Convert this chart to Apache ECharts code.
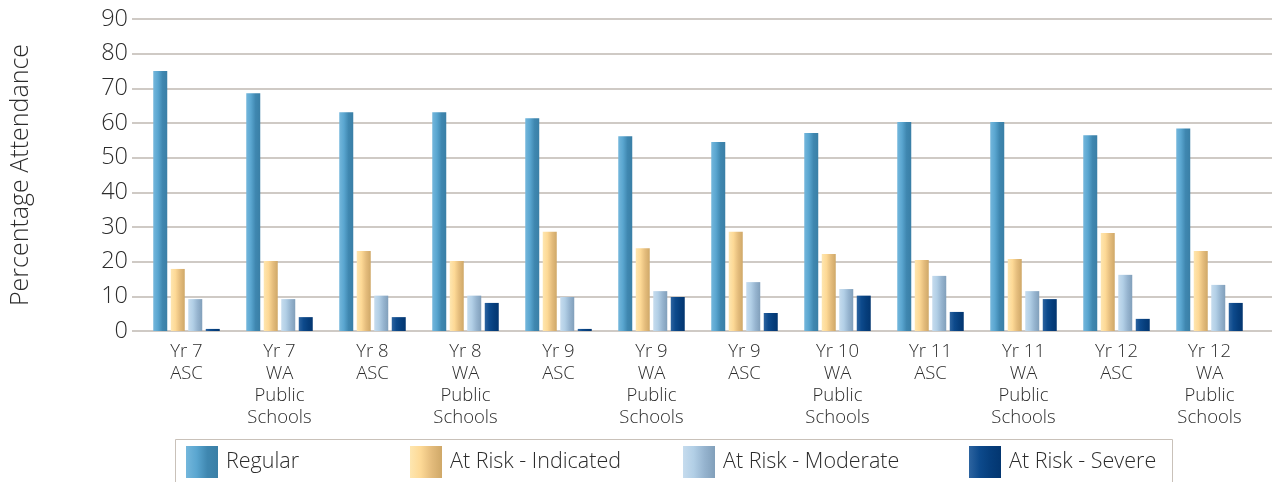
<!DOCTYPE html>
<html>
<head>
<meta charset="utf-8">
<style>
  html, body { margin: 0; padding: 0; background: #ffffff; }
  #chart { width: 1272px; height: 482px; }
</style>
<script src="https://cdn.jsdelivr.net/npm/echarts@6/dist/echarts.min.js"></script>
</head>
<body>
<div id="chart"></div>
<script>
// Attendance groups (Year level / school type)
const categories = [
  'Yr 7\nASC', 'Yr 7\nWA\nPublic\nSchools',
  'Yr 8\nASC', 'Yr 8\nWA\nPublic\nSchools',
  'Yr 9\nASC', 'Yr 9\nWA\nPublic\nSchools',
  'Yr 9\nASC', 'Yr 10\nWA\nPublic\nSchools',
  'Yr 11\nASC', 'Yr 11\nWA\nPublic\nSchools',
  'Yr 12\nASC', 'Yr 12\nWA\nPublic\nSchools'
];
const seriesNames = ['Regular', 'At Risk - Indicated', 'At Risk - Moderate', 'At Risk - Severe'];
const regular   = [75.0, 68.6, 63.1, 63.1, 61.4, 56.2, 54.5, 57.1, 60.3, 60.3, 56.5, 58.4];
const indicated = [17.9, 20.2, 23.1, 20.2, 28.6, 23.9, 28.6, 22.2, 20.5, 20.8, 28.3, 23.1];
const moderate  = [9.2, 9.2, 10.2, 10.2, 9.8, 11.5, 14.1, 12.1, 15.9, 11.5, 16.2, 13.3];
const severe    = [0.6, 4.0, 4.0, 8.1, 0.6, 9.8, 5.2, 10.2, 5.5, 9.2, 3.5, 8.1];
const yTicks = { min: 0, max: 90, interval: 10 };

const FONT = '"Open Sans", Roboto, "Liberation Sans", sans-serif';
const TEXT = '#2c2c2c';

function hGrad(stops) {
  return new echarts.graphic.LinearGradient(0, 0, 1, 0,
    stops.map((c, i) => ({ offset: i / (stops.length - 1), color: c })));
}
const fills = [
  hGrad(['#74b7dc', '#5aa6d0', '#3f87b0', '#3a7fa6']),
  hGrad(['#fee6b0', '#fdd996', '#e4bc7c', '#cfa868']),
  hGrad(['#c6dcee', '#b2cfe6', '#96b4cf', '#819fba']),
  hGrad(['#2d64a0', '#0d4a8c', '#063e7c', '#033670'])
];
const values = [regular, indicated, moderate, severe];

const chart = echarts.init(document.getElementById('chart'), null, { renderer: 'canvas' });

const PLOT_TOP = 19, PLOT_BOTTOM = 151;
const legendLefts = [186, 410, 683, 969];

chart.setOption({
  animation: false,
  backgroundColor: '#ffffff',
  grid: [
    // value scale with gridlines across the full width
    { left: 126, right: 0, top: PLOT_TOP, bottom: PLOT_BOTTOM, containLabel: false },
    // bar area
    { left: 140, right: 16, top: PLOT_TOP, bottom: PLOT_BOTTOM, containLabel: false }
  ],
  xAxis: [
    { gridIndex: 0, type: 'value', show: false, min: 0, max: 1 },
    {
      gridIndex: 1, type: 'category', data: categories, boundaryGap: true,
      axisLine: { show: false }, axisTick: { show: false },
      axisLabel: {
        interval: 0, margin: 10, color: TEXT, fontFamily: FONT, fontSize: 18.5,
        fontWeight: 300, lineHeight: 22, align: 'center'
      }
    }
  ],
  yAxis: [
    {
      gridIndex: 0, type: 'value', min: yTicks.min, max: yTicks.max, interval: yTicks.interval,
      name: 'Percentage Attendance', nameLocation: 'middle', nameGap: 99,
      nameTextStyle: { color: TEXT, fontFamily: FONT, fontSize: 25, fontWeight: 300 },
      axisLine: { show: false }, axisTick: { show: false },
      axisLabel: { color: TEXT, fontFamily: FONT, fontSize: 23.5, fontWeight: 300, margin: 4 },
      splitLine: { show: true, lineStyle: { color: '#cfcac5', width: 2 } }
    },
    {
      gridIndex: 1, type: 'value', min: yTicks.min, max: yTicks.max, interval: yTicks.interval,
      show: false, splitLine: { show: false }
    }
  ],
  legend: seriesNames.map((n, i) => ({
    data: [n], left: legendLefts[i], top: 446, padding: 0,
    icon: 'rect', itemWidth: 32, itemHeight: 32,
    textStyle: { color: TEXT, fontFamily: FONT, fontSize: 21.5, fontWeight: 300, padding: [0, 0, 0, 3] },
    selectedMode: false
  })),
  graphic: [{
    type: 'rect', silent: true, z: -1,
    shape: { x: 175.5, y: 439.5, width: 997, height: 60 },
    style: { fill: 'none', stroke: '#c9c1b9', lineWidth: 1 }
  }],
  series: seriesNames.map((n, i) => ({
    name: n, type: 'bar', xAxisIndex: 1, yAxisIndex: 1,
    data: values[i], barWidth: 14, barGap: '25%',
    itemStyle: { color: fills[i] }
  }))
});
</script>
</body>
</html>
